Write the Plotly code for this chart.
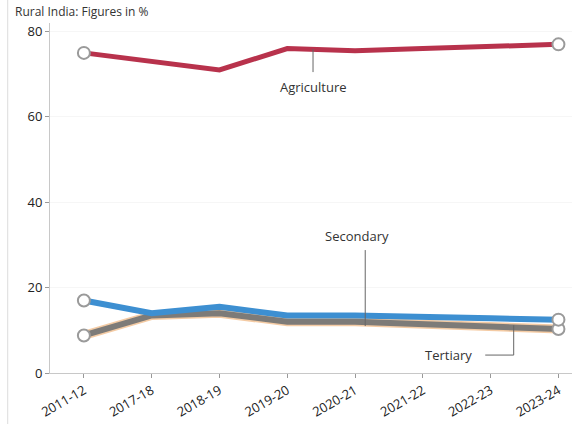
import plotly.graph_objects as go

years = ["2011-12", "2017-18", "2018-19", "2019-20", "2020-21", "2021-22", "2022-23", "2023-24"]
agriculture = [75.0, 73.0, 71.0, 76.0, 75.5, 76.0, 76.5, 77.0]
secondary = [17.0, 14.0, 15.5, 13.5, 13.5, 13.3, 12.8, 12.5]
tertiary = [8.8, 13.5, 14.0, 12.0, 12.0, 11.5, 11.0, 10.3]

fig = go.Figure()

def add_series(vals, color, width, glow=None):
    if glow:
        fig.add_trace(go.Scatter(x=years, y=vals, mode="lines",
                                 line=dict(color=glow, width=width + 3),
                                 hoverinfo="skip", showlegend=False))
    fig.add_trace(go.Scatter(x=years, y=vals, mode="lines",
                             line=dict(color=color, width=width),
                             showlegend=False))
    fig.add_trace(go.Scatter(x=[years[0], years[-1]], y=[vals[0], vals[-1]],
                             mode="markers",
                             marker=dict(size=12, color="white",
                                         line=dict(color="#9a9a9a", width=2)),
                             showlegend=False))

add_series(tertiary, "#7d7b78", 6, glow="rgba(235,160,90,0.55)")
add_series(secondary, "#3d8fd1", 6)
add_series(agriculture, "#b8324c", 5)

txt = dict(family="Open Sans, Liberation Sans, sans-serif", size=13, color="#333")
fig.add_annotation(x=3.38, y=67.0, text="Agriculture", showarrow=False, font=txt)
fig.add_annotation(x=4.03, y=32.0, text="Secondary", showarrow=False, font=txt)
fig.add_annotation(x=5.38, y=4.2, text="Tertiary", showarrow=False, font=txt)

lc = dict(color="#666", width=1)
fig.add_shape(type="line", xref="x", yref="y", x0=3.38, x1=3.38, y0=70.5, y1=75.9, line=lc)
fig.add_shape(type="line", xref="x", yref="y", x0=4.15, x1=4.15, y0=28.8, y1=11.0, line=lc)
fig.add_shape(type="path", xref="x", yref="y",
              path="M 5.92 4.2 L 6.34 4.2 L 6.34 11.2", line=lc)

fig.add_shape(type="line", xref="paper", yref="paper", x0=-0.081, x1=-0.081,
              y0=-0.2, y1=1.07, line=dict(color="#dcdcdc", width=1))

fig.add_annotation(xref="paper", yref="paper", x=-0.07, y=1.063, xanchor="left",
                   yanchor="top", text="Rural India: Figures in %", showarrow=False,
                   font=dict(family="Open Sans, Liberation Sans, sans-serif", size=12, color="#333"))

fig.update_layout(
    width=572, height=424,
    margin=dict(l=50, r=0, t=23, b=51),
    paper_bgcolor="white", plot_bgcolor="white",
    font=dict(family="Open Sans, Liberation Sans, sans-serif", size=12, color="#222"),
    xaxis=dict(type="category", range=[-0.5, 7.2], showgrid=False,
               showline=True, linecolor="#c8c8c8", ticks="outside",
               ticklen=4, tickcolor="#999", tickangle=-30,
               tickfont=dict(size=13, color="#222")),
    yaxis=dict(range=[0, 82], tickvals=[0, 20, 40, 60, 80], showgrid=True,
               gridcolor="#f6f6f6", showline=True, linecolor="#c8c8c8",
               ticks="outside", ticklen=4, tickcolor="#999", zeroline=False,
               tickfont=dict(size=13, color="#222")),
)

fig.write_html("out.html")
